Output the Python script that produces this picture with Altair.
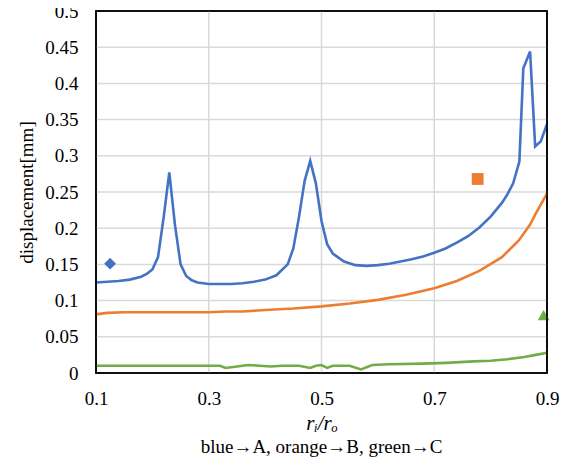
import altair as alt
import pandas as pd

blue_x = [0.10, 0.12, 0.14, 0.16, 0.18, 0.19, 0.20, 0.21, 0.22, 0.23, 0.24, 0.25, 0.26, 0.27, 0.28,
          0.30, 0.32, 0.34, 0.36, 0.38, 0.40, 0.42, 0.44, 0.45, 0.46, 0.47, 0.48, 0.49, 0.50, 0.51,
          0.52, 0.54, 0.56, 0.58, 0.60, 0.62, 0.64, 0.66, 0.68, 0.70, 0.72, 0.74, 0.76, 0.78, 0.80,
          0.82, 0.83, 0.84, 0.851, 0.858, 0.87, 0.879, 0.889, 0.90]
blue_y = [0.125, 0.126, 0.127, 0.129, 0.133, 0.137, 0.143, 0.160, 0.215, 0.277, 0.205, 0.150, 0.134, 0.128, 0.125,
          0.123, 0.123, 0.123, 0.124, 0.126, 0.129, 0.135, 0.150, 0.172, 0.215, 0.265, 0.293, 0.262, 0.210, 0.178,
          0.165, 0.154, 0.149, 0.148, 0.149, 0.151, 0.154, 0.157, 0.161, 0.166, 0.172, 0.180, 0.189, 0.201, 0.216,
          0.235, 0.247, 0.262, 0.292, 0.421, 0.444, 0.313, 0.320, 0.344]

orange_x = [0.10, 0.12, 0.15, 0.20, 0.25, 0.30, 0.33, 0.36, 0.40, 0.45, 0.50, 0.55, 0.60, 0.65, 0.70,
            0.74, 0.78, 0.82, 0.85, 0.87, 0.88, 0.89, 0.90]
orange_y = [0.081, 0.083, 0.084, 0.084, 0.084, 0.084, 0.085, 0.085, 0.087, 0.089, 0.092, 0.096, 0.101, 0.108, 0.117,
            0.127, 0.141, 0.160, 0.183, 0.205, 0.220, 0.234, 0.248]

green_x = [0.10, 0.20, 0.32, 0.33, 0.35, 0.37, 0.39, 0.41, 0.43, 0.46, 0.48, 0.49, 0.50, 0.51, 0.52,
           0.55, 0.57, 0.59, 0.62, 0.68, 0.72, 0.77, 0.80, 0.83, 0.86, 0.88, 0.90]
green_y = [0.010, 0.010, 0.010, 0.007, 0.009, 0.011, 0.010, 0.009, 0.010, 0.010, 0.007, 0.010, 0.011, 0.007, 0.010,
           0.010, 0.005, 0.011, 0.012, 0.013, 0.014, 0.016, 0.017, 0.019, 0.022, 0.025, 0.028]

marker_series = ["A", "B", "C"]
marker_x = [0.125, 0.777, 0.894]
marker_y = [0.151, 0.268, 0.080]
marker_shape = ["diamond", "square", "triangle-up"]

series = ["A", "B", "C"]
colors = ["#4472C4", "#ED7D31", "#70AD47"]

x_ticks = [0.1, 0.3, 0.5, 0.7, 0.9]
y_ticks = [0, 0.05, 0.1, 0.15, 0.2, 0.25, 0.3, 0.35, 0.4, 0.45, 0.5]

rows = []
for s, xs, ys in [("A", blue_x, blue_y), ("B", orange_x, orange_y), ("C", green_x, green_y)]:
    for i, (a, b) in enumerate(zip(xs, ys)):
        rows.append({"series": s, "x": a, "y": b, "order": i})
lines_df = pd.DataFrame(rows)
marks_df = pd.DataFrame({"series": marker_series, "x": marker_x, "y": marker_y, "shape": marker_shape})
frame_df = pd.DataFrame({"x": [x_ticks[0]], "x2": [x_ticks[-1]], "y": [y_ticks[0]], "y2": [y_ticks[-1]]})
xgrid_df = pd.DataFrame({"x": x_ticks[1:-1]})
ygrid_df = pd.DataFrame({"y": y_ticks[1:-1]})

FONT = "Liberation Serif"

xscale = alt.Scale(domain=[0.1, 0.9], nice=False, zero=False)
yscale = alt.Scale(domain=[0, 0.5], nice=False)
cscale = alt.Scale(domain=series, range=colors)

common = dict(labelFont=FONT, titleFont=FONT, labelColor="black", titleColor="black",
              titleFontWeight="normal", labelOverlap=False, labelFlush=False,
              ticks=False, domain=False, grid=False)

xaxis = alt.Axis(values=x_ticks, format=".1f", title="rᵢ/rₒ", titleFontStyle="italic",
                 titleFontSize=21, titlePadding=4, labelFontSize=19, labelPadding=16, **common)
yaxis = alt.Axis(values=y_ticks, format=".2~f", title="displacement[mm]",
                 titleFontSize=19, titlePadding=8, labelFontSize=19, labelPadding=18, **common)

xgrid = alt.Chart(xgrid_df).mark_rule(color="#d9d9d9", strokeWidth=1.5).encode(
    x=alt.X("x:Q", scale=xscale, axis=xaxis),
)
ygrid = alt.Chart(ygrid_df).mark_rule(color="#d9d9d9", strokeWidth=1.5).encode(
    y=alt.Y("y:Q", scale=yscale, axis=yaxis),
)

lines = alt.Chart(lines_df).mark_line(strokeWidth=2.6).encode(
    x=alt.X("x:Q", scale=xscale, axis=xaxis),
    y=alt.Y("y:Q", scale=yscale, axis=yaxis),
    color=alt.Color("series:N", scale=cscale, legend=None),
    order="order:Q",
)

points = alt.Chart(marks_df).mark_point(filled=True, opacity=1, size=140).encode(
    x=alt.X("x:Q", scale=xscale, axis=xaxis),
    y=alt.Y("y:Q", scale=yscale, axis=yaxis),
    color=alt.Color("series:N", scale=cscale, legend=None),
    shape=alt.Shape("shape:N", scale=None, legend=None),
)

frame = alt.Chart(frame_df).mark_rect(fillOpacity=0, stroke="black", strokeWidth=1.6).encode(
    x=alt.X("x:Q", scale=xscale, axis=xaxis),
    x2="x2:Q",
    y=alt.Y("y:Q", scale=yscale, axis=yaxis),
    y2="y2:Q",
)

chart = alt.layer(xgrid, ygrid, lines, points, frame).properties(
    width=451, height=362,
    autosize=alt.AutoSizeParams(type="none"),
    padding={"left": 88, "top": 3, "right": 19, "bottom": 87},
    title=alt.TitleParams("blue→A, orange→B, green→C", orient="bottom", font=FONT, fontSize=19,
                          fontWeight="normal", color="black", offset=5),
).configure(
    background="white",
    font=FONT,
    view=alt.ViewConfig(stroke="black", strokeWidth=1.5),
)

chart.save("out.html", embed_options={"renderer": "svg", "actions": False})
